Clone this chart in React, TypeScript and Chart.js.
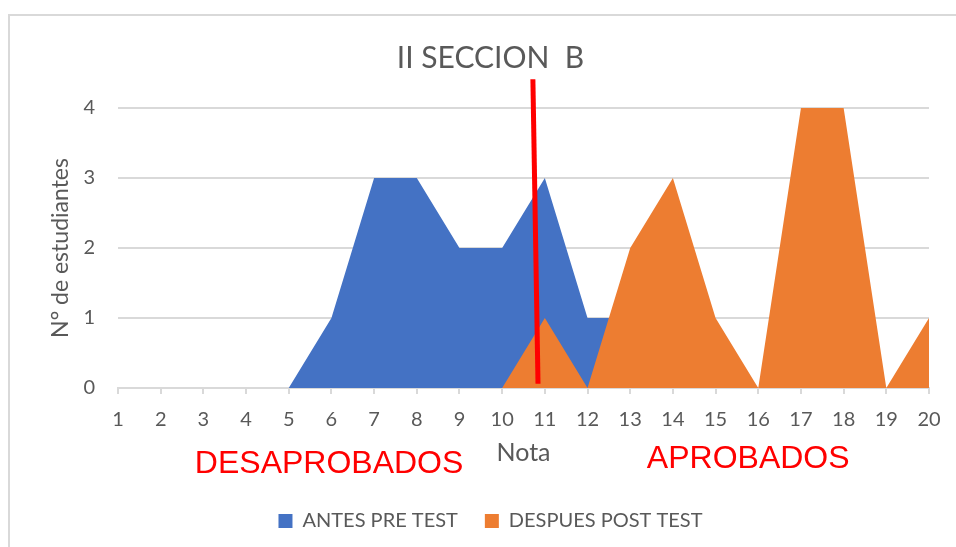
import React, { useEffect, useRef } from 'react';
import { Chart, registerables } from 'chart.js';

Chart.register(...registerables);

const notas = ['1', '2', '3', '4', '5', '6', '7', '8', '9', '10', '11', '12', '13', '14', '15', '16', '17', '18', '19', '20'];
const antesPreTest = [0, 0, 0, 0, 0, 1, 3, 3, 2, 2, 3, 1, 1, 0, 0, 0, 0, 0, 0, 0];
const despuesPostTest = [0, 0, 0, 0, 0, 0, 0, 0, 0, 0, 1, 0, 2, 3, 1, 0, 4, 4, 0, 1];
const yTicks = [0, 1, 2, 3, 4];

const chartTitle = 'II SECCION  B';
const xTitle = 'Nota';
const yTitle = 'N° de estudiantes';
const seriesNames = ['ANTES PRE TEST', 'DESPUES POST TEST'];

// annotation positions in data units (nota, value)
const separatorTop = { nota: 10.72, value: 4.41 };
const separatorBottom = { nota: 10.84, value: 0.06 };
const zoneLabels = [
  { text: 'DESAPROBADOS', nota: 2.8, value: -1.21 },
  { text: 'APROBADOS', nota: 13.39, value: -1.14 },
];

const GRAY = '#595959';
const GRID = '#d9d9d9';
const FONT = 'Lato';

const annotationsPlugin = {
  id: 'annotations',
  beforeDraw(chart: any) {
    const ctx = chart.ctx;
    ctx.save();
    ctx.fillStyle = '#ffffff';
    ctx.fillRect(0, 0, chart.width, chart.height);
    ctx.strokeStyle = GRID;
    ctx.lineWidth = 2;
    ctx.strokeRect(9, 15, 2000, 2000);
    ctx.restore();
  },
  afterDraw(chart: any) {
    const ctx = chart.ctx;
    const x = chart.scales.x;
    const y = chart.scales.y;
    ctx.save();
    ctx.strokeStyle = '#ff0000';
    ctx.lineWidth = 5;
    ctx.beginPath();
    ctx.moveTo(x.getPixelForValue(separatorTop.nota - 1), y.getPixelForValue(separatorTop.value));
    ctx.lineTo(x.getPixelForValue(separatorBottom.nota - 1), y.getPixelForValue(separatorBottom.value));
    ctx.stroke();
    ctx.fillStyle = '#ff0000';
    ctx.font = '32px "Liberation Sans", Arial, sans-serif';
    ctx.textAlign = 'left';
    ctx.textBaseline = 'alphabetic';
    zoneLabels.forEach((z) => {
      ctx.fillText(z.text, x.getPixelForValue(z.nota - 1), y.getPixelForValue(z.value));
    });
    ctx.restore();
  },
};

export default function App() {
  const ref = useRef<HTMLCanvasElement | null>(null);
  useEffect(() => {
    if (!ref.current) return;
    const chart = new Chart(ref.current, {
      type: 'line',
      data: {
        labels: notas,
        datasets: [
          {
            label: seriesNames[0],
            data: antesPreTest,
            backgroundColor: '#4472c4',
            borderColor: '#4472c4',
            borderWidth: 0,
            fill: 'origin',
            pointRadius: 0,
            tension: 0,
            order: 2,
          },
          {
            label: seriesNames[1],
            data: despuesPostTest,
            backgroundColor: '#ed7d31',
            borderColor: '#ed7d31',
            borderWidth: 0,
            fill: 'origin',
            pointRadius: 0,
            tension: 0,
            order: 1,
          },
        ],
      },
      options: {
        responsive: false,
        animation: false,
        layout: { padding: { left: 52, right: 27, top: 0, bottom: 6 } },
        plugins: {
          tooltip: { enabled: false },
          title: {
            display: true,
            text: chartTitle,
            color: GRAY,
            font: { family: FONT, size: 30, weight: 'normal' },
            padding: { top: 40, bottom: 32 },
          },
          legend: {
            position: 'bottom',
            labels: {
              color: GRAY,
              font: { family: FONT, size: 20 },
              boxWidth: 14,
              boxHeight: 14,
              padding: 27,
              sort: (a: any, b: any) => a.datasetIndex - b.datasetIndex,
            },
          },
        },
        scales: {
          x: {
            offset: false,
            grid: {
              drawOnChartArea: false,
              drawTicks: true,
              tickLength: 6,
              color: GRID,
              lineWidth: 2,
            },
            border: { display: true, color: GRID, width: 2 },
            ticks: { color: GRAY, font: { family: FONT, size: 20 }, padding: 14, maxRotation: 0, autoSkip: false },
            title: {
              display: true,
              text: xTitle,
              color: GRAY,
              font: { family: FONT, size: 25 },
              padding: { top: 4, bottom: 16 },
            },
            afterFit: (s: any) => {
              s.height = 96;
            },
          },
          y: {
            min: 0,
            max: 4,
            afterBuildTicks: (s: any) => {
              s.ticks = yTicks.map((v) => ({ value: v }));
            },
            grid: { color: GRID, lineWidth: 2, drawTicks: false },
            border: { display: false },
            ticks: { color: GRAY, font: { family: FONT, size: 20 }, padding: 23 },
            title: {
              display: true,
              text: yTitle,
              color: GRAY,
              font: { family: FONT, size: 23 },
              padding: { top: -5, bottom: 0 },
            },
            afterFit: (s: any) => {
              s.width = 66;
            },
          },
        },
      },
      plugins: [annotationsPlugin],
    });
    return () => chart.destroy();
  }, []);
  return (
    <div style={{ position: 'fixed', left: 0, top: 0, width: 956, height: 547 }}>
      <canvas ref={ref} width={956} height={547} />
    </div>
  );
}
